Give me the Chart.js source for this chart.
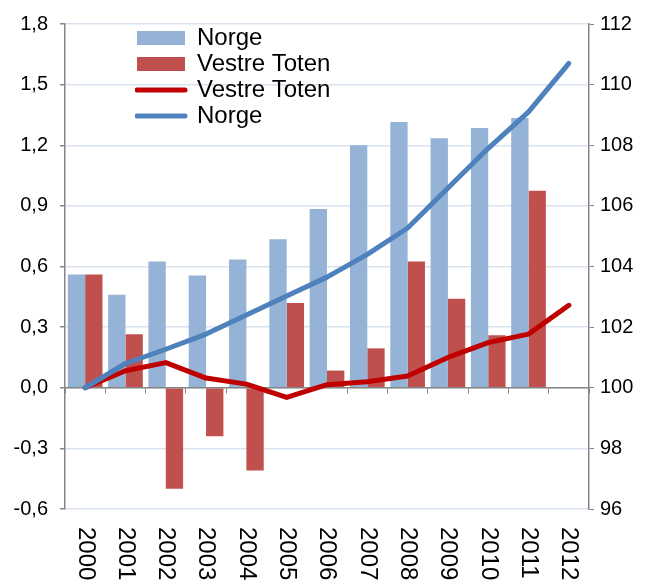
<!DOCTYPE html>
<html lang="no">
<head>
<meta charset="utf-8">
<title>Norge og Vestre Toten</title>
<script src="https://cdn.jsdelivr.net/npm/chart.js@4.4.1/dist/chart.umd.min.js"></script>
<style>
    html, body { margin: 0; padding: 0; background: #fff; }
    #wrap { width: 646px; height: 584px; position: relative; }
</style>
</head>
<body>
<div id="wrap"><canvas id="chart"></canvas></div>
<script>
// Category labels (x axis)
const years = ['2000', '2001', '2002', '2003', '2004', '2005', '2006',
               '2007', '2008', '2009', '2010', '2011', '2012'];

// Bars, left axis (change, percent)
const norgeBars = [0.56, 0.46, 0.625, 0.555, 0.635, 0.735, 0.885, 1.2, 1.315, 1.235, 1.285, 1.335];
const vestreTotenBars = [0.56, 0.265, -0.50, -0.24, -0.41, 0.42, 0.085, 0.195, 0.625, 0.44, 0.26, 0.975];

// Lines, right axis (index, 2000 = 100)
const vestreTotenIndex = [100, 100.56, 100.83, 100.32, 100.12, 99.68, 100.1, 100.2, 100.39, 101.0, 101.49, 101.77, 102.72];
const norgeIndex = [100, 100.8, 101.27, 101.77, 102.4, 103.03, 103.65, 104.4, 105.27, 106.59, 107.9, 109.1, 110.7];

// Axis ranges
const leftAxis = { min: -0.6, max: 1.8, step: 0.3 };
const rightAxis = { min: 96, max: 112, step: 2 };

const FONT = '"Liberation Sans", Arial, sans-serif';
const AXIS_GREY = '#868686';
const GRID_BLUE = '#d9e3f0';

/**
 * Draws the year labels rotated a quarter turn clockwise (top to bottom)
 */
const yearLabelsPlugin = {
    id: 'yearLabels',
    afterDraw(chart) {
        const { ctx, chartArea, scales } = chart;
        ctx.save();
        ctx.font = '24px ' + FONT;
        ctx.fillStyle = '#000';
        ctx.textAlign = 'left';
        ctx.textBaseline = 'middle';
        years.forEach((label, i) => {
            ctx.save();
            ctx.translate(scales.x.getPixelForValue(i), chartArea.bottom + 18);
            ctx.rotate(Math.PI / 2);
            ctx.fillText(label, 0, 0);
            ctx.restore();
        });
        ctx.restore();
    }
};

/**
 * Places the legend inside the plot, a bit right of the left axis
 */
const legendOffsetPlugin = {
    id: 'legendOffset',
    afterUpdate(chart) {
        const legend = chart.legend;
        if (!legend) return;
        const area = chart.chartArea;
        legend.left = area.left + 70;
        legend.top = area.top;
        legend.bottom = area.bottom;
        legend.right = legend.left + legend.width;
    }
};

const ChartController = {
    chart: null,

    init() {
        const ctx = document.getElementById('chart').getContext('2d');

        this.chart = new Chart(ctx, {
            type: 'bar',
            data: {
                labels: years,
                datasets: [
                    {
                        label: 'Norge',
                        data: norgeBars,
                        backgroundColor: '#95b3d7',
                        yAxisID: 'y',
                        order: 2
                    },
                    {
                        label: 'Vestre Toten',
                        data: vestreTotenBars,
                        backgroundColor: '#c0504d',
                        yAxisID: 'y',
                        order: 2
                    },
                    {
                        type: 'line',
                        label: 'Vestre Toten',
                        data: vestreTotenIndex,
                        borderColor: '#c00000',
                        backgroundColor: '#c00000',
                        borderWidth: 5,
                        pointRadius: 0,
                        borderCapStyle: 'round',
                        borderJoinStyle: 'round',
                        tension: 0,
                        yAxisID: 'y1',
                        order: 1
                    },
                    {
                        type: 'line',
                        label: 'Norge',
                        data: norgeIndex,
                        borderColor: '#4f81bd',
                        backgroundColor: '#4f81bd',
                        borderWidth: 5,
                        pointRadius: 0,
                        borderCapStyle: 'round',
                        borderJoinStyle: 'round',
                        tension: 0,
                        yAxisID: 'y1',
                        order: 0
                    }
                ]
            },
            options: {
                responsive: true,
                maintainAspectRatio: false,
                animation: false,
                layout: {
                    padding: { top: 22, bottom: 75, left: 0, right: 0 }
                },
                datasets: {
                    bar: {
                        categoryPercentage: 0.86,
                        barPercentage: 1.0
                    }
                },
                plugins: {
                    tooltip: { enabled: false },
                    legend: {
                        position: 'chartArea',
                        align: 'start',
                        labels: {
                            usePointStyle: true,
                            pointStyleWidth: 48,
                            boxHeight: 14,
                            padding: 2,
                            color: '#000',
                            font: { family: FONT, size: 24 },
                            generateLabels(chart) {
                                return chart.data.datasets.map((ds, i) => {
                                    const isLine = ds.type === 'line';
                                    return {
                                        text: ds.label,
                                        datasetIndex: i,
                                        fillStyle: isLine ? ds.borderColor : ds.backgroundColor,
                                        strokeStyle: isLine ? ds.borderColor : ds.backgroundColor,
                                        lineWidth: isLine ? 5 : 0,
                                        lineCap: 'round',
                                        pointStyle: isLine ? 'line' : 'rect',
                                        hidden: false
                                    };
                                });
                            }
                        }
                    }
                },
                scales: {
                    x: {
                        type: 'category',
                        position: { y: 0 },
                        offset: true,
                        grid: {
                            offset: true,
                            drawOnChartArea: false,
                            drawTicks: true,
                            tickLength: 5,
                            tickColor: AXIS_GREY
                        },
                        border: { display: true, color: AXIS_GREY, width: 1.5 },
                        ticks: { display: false }
                    },
                    y: {
                        position: 'left',
                        min: leftAxis.min,
                        max: leftAxis.max,
                        grid: {
                            color: GRID_BLUE,
                            lineWidth: 1.5,
                            tickLength: 5,
                            tickColor: AXIS_GREY
                        },
                        border: { display: true, color: AXIS_GREY, width: 1.5 },
                        ticks: {
                            stepSize: leftAxis.step,
                            padding: 12,
                            color: '#000',
                            font: { family: FONT, size: 20 },
                            callback: v => v.toFixed(1).replace('.', ',')
                        },
                        afterFit(scale) { scale.width = 65; }
                    },
                    y1: {
                        position: 'right',
                        min: rightAxis.min,
                        max: rightAxis.max,
                        grid: {
                            drawOnChartArea: false,
                            tickLength: 5,
                            tickColor: AXIS_GREY
                        },
                        border: { display: true, color: AXIS_GREY, width: 1.5 },
                        ticks: {
                            stepSize: rightAxis.step,
                            padding: 6,
                            color: '#000',
                            font: { family: FONT, size: 20 }
                        },
                        afterFit(scale) { scale.width = 57; }
                    }
                }
            },
            plugins: [legendOffsetPlugin, yearLabelsPlugin]
        });
    }
};

ChartController.init();
</script>
</body>
</html>
